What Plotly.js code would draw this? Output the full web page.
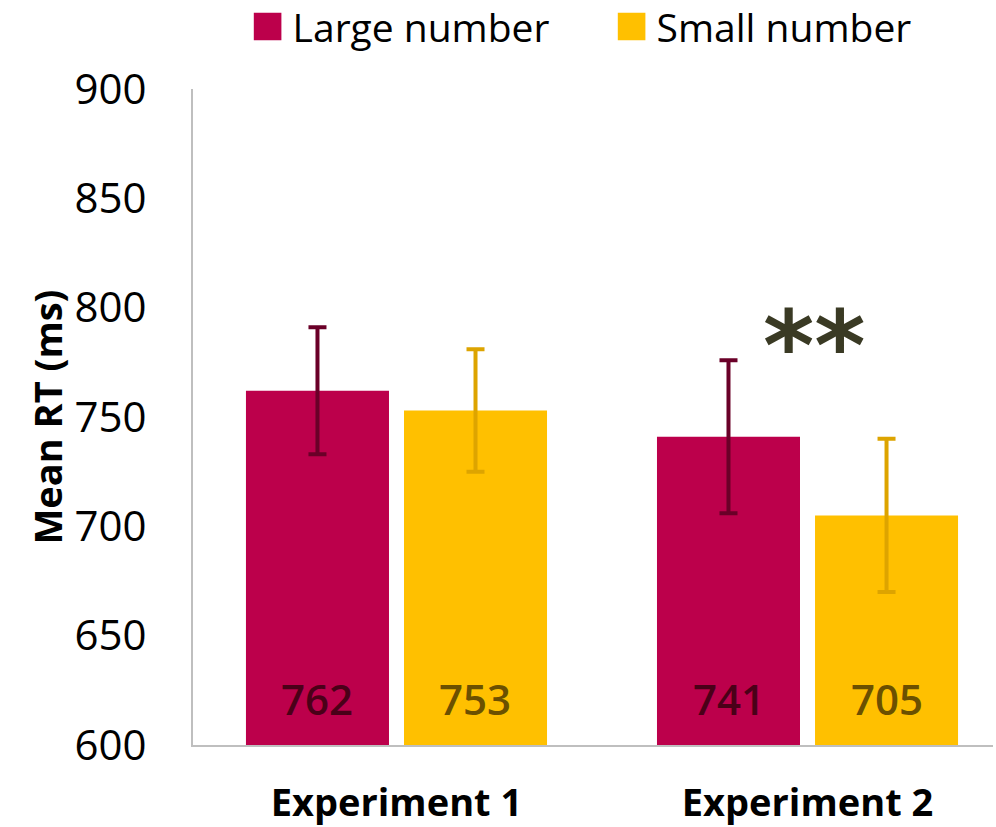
<!DOCTYPE html>
<html>
<head>
<meta charset="utf-8">
<script src="https://cdn.plot.ly/plotly-3.0.1.min.js"></script>
<style>html,body{margin:0;padding:0;background:#fff;}#chart{width:996px;height:827px;}</style>
</head>
<body>
<div id="chart"></div>
<script>
// ---- data ----
const categories = ["Experiment 1", "Experiment 2"];
const seriesNames = ["Large number", "Small number"];
const largeValues = [762, 741];
const smallValues = [753, 705];
const largeErrors = [29, 35];
const smallErrors = [28, 35];
const yTickValues = [600, 650, 700, 750, 800, 850, 900];
const significanceLabel = "**";

// ---- styles ----
const mainFont = "'Open Sans', 'Liberation Sans', sans-serif";
const colors = {large: "#BC004B", small: "#FFC000"};
const errColors = {large: "#6A0028", small: "#DDA400"};
const labelColors = {large: "#4A0018", small: "#6B5000"};

const traces = [
  {type: "bar", name: seriesNames[0], x: categories, y: largeValues,
   marker: {color: colors.large},
   error_y: {type: "data", array: largeErrors, visible: true, color: errColors.large, thickness: 4, width: 9},
   hoverinfo: "none"},
  {type: "bar", name: seriesNames[1], x: categories, y: smallValues,
   marker: {color: colors.small},
   error_y: {type: "data", array: smallErrors, visible: true, color: errColors.small, thickness: 4, width: 9},
   hoverinfo: "none"}
];

// value labels at the foot of each bar
const annotations = [];
const slotShift = 79;
categories.forEach((c, i) => {
  annotations.push({x: c, y: 600, xref: "x", yref: "y", text: String(largeValues[i]), showarrow: false,
    yanchor: "bottom", yshift: 16, xshift: -slotShift,
    font: {family: mainFont, size: 42, color: labelColors.large, weight: 600}});
  annotations.push({x: c, y: 600, xref: "x", yref: "y", text: String(smallValues[i]), showarrow: false,
    yanchor: "bottom", yshift: 16, xshift: slotShift,
    font: {family: mainFont, size: 42, color: labelColors.small, weight: 600}});
});
annotations.push({x: categories[1], y: largeValues[1] + largeErrors[1], xref: "x", yref: "y",
  text: "<b>" + significanceLabel + "</b>", showarrow: false, yanchor: "bottom", yshift: -45, xshift: 7,
  font: {family: "'DejaVu Sans', sans-serif", size: 98, color: "#3A3A24"}});

const layout = {
  width: 996, height: 827,
  margin: {l: 193, r: 3, t: 89, b: 82, autoexpand: false},
  paper_bgcolor: "#ffffff", plot_bgcolor: "#ffffff",
  barmode: "group", bargap: 0.231, bargroupgap: 0.095,
  showlegend: true,
  legend: {orientation: "h", x: 0.062, xanchor: "left", y: 1.095, yanchor: "middle",
    font: {family: mainFont, size: 39, color: "#000"}, itemwidth: 40, entrywidth: 309, traceorder: "normal"},
  xaxis: {type: "category", range: [-0.4951, 1.4513], showline: true, linecolor: "#BFBFBF", linewidth: 2,
    showgrid: false, zeroline: false, ticks: "", ticklabelstandoff: 23,
    tickfont: {family: mainFont, size: 38, color: "#000", weight: "bold"}},
  yaxis: {range: [600, 900], tickvals: yTickValues, showline: true, linecolor: "#BFBFBF", linewidth: 2,
    showgrid: false, zeroline: false, ticks: "", ticklabelstandoff: 36,
    tickfont: {family: mainFont, size: 42, color: "#000"},
    title: {text: "Mean RT (ms)", font: {family: mainFont, size: 38, color: "#000", weight: "bold"}}},
  annotations: annotations
};

Plotly.newPlot("chart", traces, layout, {staticPlot: true}).then(() => {
  document.querySelectorAll("#chart .legend .legendpoints path").forEach(p => {
    const t = p.getAttribute("transform") || "";
    p.setAttribute("transform", t + " scale(2.3)");
  });
});
</script>
</body>
</html>
